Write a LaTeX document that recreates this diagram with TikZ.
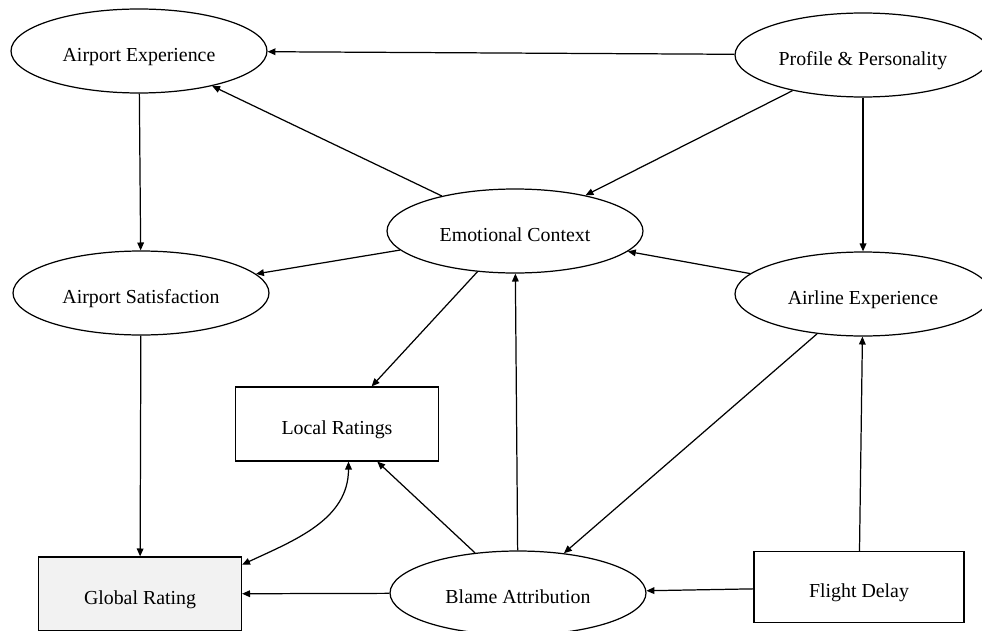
\documentclass[tikz,border=0pt]{standalone}
\usepackage{fontspec}
\setmainfont{Liberation Serif}
\usetikzlibrary{arrows.meta,shapes.geometric}
\definecolor{boxgray}{HTML}{F2F2F2}

\begin{document}
\begin{tikzpicture}[x=0.02cm, y=0.02cm,
    font=\fontsize{11.3}{13}\selectfont,
    oval/.style={draw, ellipse, line width=0.7pt, minimum width=5.12cm, minimum height=1.68cm, inner sep=0pt, text height=12.5pt, text depth=0pt},
    box/.style={draw, rectangle, line width=0.7pt, minimum width=4.06cm, minimum height=1.48cm, inner sep=0pt, text height=12.5pt, text depth=0pt},
    link/.style={line width=0.7pt, -{Triangle[length=4.5pt,width=3.8pt]}},
    twoway/.style={line width=0.7pt, {Triangle[length=4.5pt,width=3.8pt]}-{Triangle[length=4.5pt,width=3.8pt]}}]
	\useasboundingbox (0,0) rectangle (982,630);
	\clip (0,0) rectangle (982,630);
	
	% ovals
	\node[oval] (ae) at (139, 579) {Airport Experience};
	\node[oval] (pp) at (863, 575) {Profile \& Personality};
	\node[oval] (ec) at (515, 399) {Emotional Context};
	\node[oval] (as) at (141, 337) {Airport Satisfaction};
	\node[oval] (ax) at (863, 336) {Airline Experience};
	\node[oval] (ba) at (518, 37) {Blame Attribution};
	
	% boxes
	\node[box] (lr) at (337, 206) {Local Ratings};
	\node[box, fill=boxgray] (gr) at (140, 36) {Global Rating};
	\node[box, minimum width=4.2cm, minimum height=1.42cm] (fd) at (859, 43) {Flight Delay};
	
	% links
	\draw[link] (pp) -- (ae);
	\draw[link] (pp) -- (ec);
	\draw[link] (pp) -- (ax);
	\draw[link] (ec) -- (ae);
	\draw[link] (ec) -- (as);
	\draw[link] (ec) -- (lr);
	\draw[link] (ae) -- (as);
	\draw[link] (as) -- (gr);
	\draw[link] (ax) -- (ec);
	\draw[link] (ax) -- (ba);
	\draw[link] (fd) -- (ax);
	\draw[link] (fd) -- (ba);
	\draw[link] (ba) -- (ec);
	\draw[link] (ba) -- (lr);
	\draw[link] (ba) -- (gr);
	\draw[twoway] (lr.-73) to[out=-90, in=25] (gr.16);
\end{tikzpicture}
\end{document}
